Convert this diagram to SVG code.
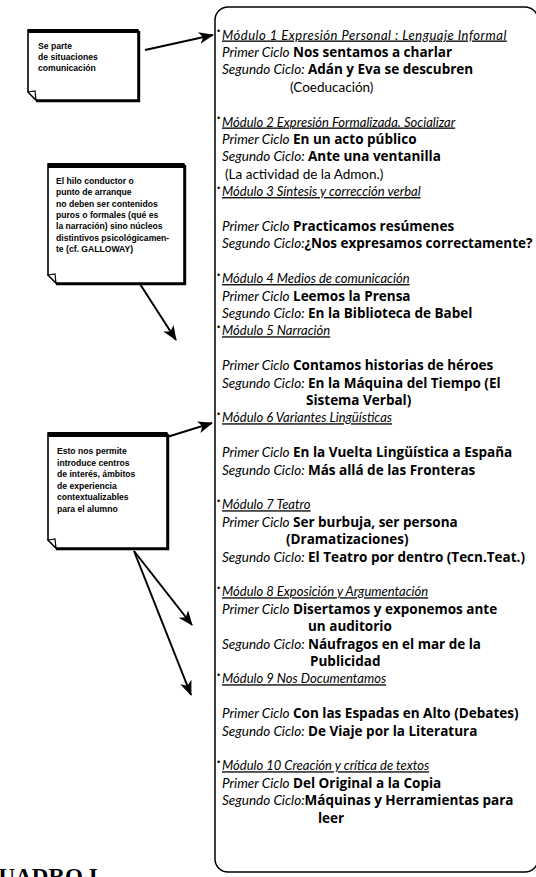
<svg xmlns="http://www.w3.org/2000/svg" width="536" height="877" viewBox="0 0 536 877">
<style>
.note-body{fill:#fff;stroke:#000;stroke-width:1.6}
.note-bar{fill:#000}
.note-shadow{fill:none;stroke:#000;stroke-width:2.4}
.note-fold{fill:#fff;stroke:#000;stroke-width:1.2}
.nt{font-family:"Liberation Sans",Arial,sans-serif;font-weight:bold;font-size:8.6px;fill:#000}
.bx{fill:none;stroke:#000;stroke-width:1.5}
.t{font-family:Lato,"Liberation Sans",sans-serif;font-size:13.5px;fill:#000}
.i{font-family:Lato,"Liberation Sans",sans-serif;font-style:italic;font-weight:normal}
.b{font-family:"Open Sans","Liberation Sans",sans-serif;font-weight:bold;font-size:13.5px}
.hd{font-style:italic;text-decoration:underline;font-size:13px}
.bul{font-family:"Liberation Sans",sans-serif;font-size:9px}
.conn{stroke:#000;stroke-width:2;fill:none}
.cap{font-family:"Liberation Serif","Times New Roman",serif;font-weight:bold;font-size:23px}
</style>
<defs>
<marker id="ah" markerUnits="userSpaceOnUse" markerWidth="16" markerHeight="12" refX="14" refY="6" orient="auto">
<path d="M0,0 L15,6 L0,12 L4,6 Z" fill="#000"/>
</marker>
</defs>

<g id="main-box">
<rect class="bx" x="215" y="7" width="323" height="865" rx="13"/>
</g>

<g id="modules" class="t">
<text class="bul" x="217" y="34">•</text>
<text class="hd" x="222" y="39.5" letter-spacing="0.5">Módulo 1 Expresión Personal : Lenguaje Informal</text>
<text x="222" y="56.9"><tspan class="i">Primer Ciclo</tspan> <tspan class="b">Nos sentamos  a charlar</tspan></text>
<text x="222" y="74.3"><tspan class="i">Segundo Ciclo:</tspan> <tspan class="b">Adán y Eva se descubren</tspan></text>
<text x="290" y="91.7">(Coeducación)</text>

<text class="bul" x="217" y="121">•</text>
<text class="hd" x="222" y="126.5">Módulo 2 Expresión Formalizada. Socializar</text>
<text x="222" y="143.9"><tspan class="i">Primer Ciclo</tspan> <tspan class="b">En un acto público</tspan></text>
<text x="222" y="161.3"><tspan class="i">Segundo Ciclo:</tspan> <tspan class="b">Ante una ventanilla</tspan></text>
<text x="225" y="178.7">(La actividad de la Admon.)</text>

<text class="bul" x="217" y="191">•</text>
<text class="hd" x="222" y="196.1">Módulo 3 Síntesis y corrección verbal</text>
<text x="222" y="230.9"><tspan class="i">Primer Ciclo</tspan> <tspan class="b">Practicamos resúmenes</tspan></text>
<text x="222" y="248.3"><tspan class="i">Segundo Ciclo:</tspan><tspan class="b">¿Nos expresamos correctamente?</tspan></text>

<text class="bul" x="217" y="278">•</text>
<text class="hd" x="222" y="283.1">Módulo 4 Medios de comunicación</text>
<text x="222" y="300.5"><tspan class="i">Primer Ciclo</tspan> <tspan class="b">Leemos la Prensa</tspan></text>
<text x="222" y="317.9"><tspan class="i">Segundo Ciclo:</tspan> <tspan class="b">En la Biblioteca de Babel</tspan></text>
<text class="bul" x="217" y="330">•</text>
<text class="hd" x="222" y="335.3">Módulo 5 Narración</text>
<text x="222" y="370.1"><tspan class="i">Primer Ciclo</tspan> <tspan class="b">Contamos historias de héroes</tspan></text>
<text x="222" y="387.5"><tspan class="i">Segundo Ciclo:</tspan> <tspan class="b">En la Máquina del Tiempo (El</tspan></text>
<text class="b" x="306" y="404.9">Sistema Verbal)</text>
<text class="bul" x="217" y="417">•</text>
<text class="hd" x="222" y="422.3">Módulo 6 Variantes Lingüísticas</text>
<text x="222" y="457.1"><tspan class="i">Primer Ciclo</tspan> <tspan class="b">En la Vuelta Lingüística a España</tspan></text>
<text x="222" y="474.5"><tspan class="i">Segundo Ciclo:</tspan> <tspan class="b">Más allá de las Fronteras</tspan></text>

<text class="bul" x="217" y="504">•</text>
<text class="hd" x="222" y="509.3">Módulo 7 Teatro</text>
<text x="222" y="526.7"><tspan class="i">Primer Ciclo</tspan> <tspan class="b">Ser burbuja, ser persona</tspan></text>
<text class="b" x="286" y="544.1">(Dramatizaciones)</text>
<text x="222" y="561.5"><tspan class="i">Segundo Ciclo:</tspan> <tspan class="b">El Teatro por dentro (Tecn.Teat.)</tspan></text>

<text class="bul" x="217" y="591">•</text>
<text class="hd" x="222" y="596.3">Módulo 8 Exposición y Argumentación</text>
<text x="222" y="613.7"><tspan class="i">Primer Ciclo</tspan> <tspan class="b">Disertamos y exponemos ante</tspan></text>
<text class="b" x="308" y="631.1">un auditorio</text>
<text x="222" y="648.5"><tspan class="i">Segundo Ciclo:</tspan> <tspan class="b">Náufragos en el mar de la</tspan></text>
<text class="b" x="310" y="665.9">Publicidad</text>
<text class="bul" x="217" y="678">•</text>
<text class="hd" x="222" y="683.3">Módulo 9  Nos Documentamos</text>
<text x="222" y="718.1"><tspan class="i">Primer Ciclo</tspan> <tspan class="b">Con las Espadas en Alto (Debates)</tspan></text>
<text x="222" y="735.5"><tspan class="i">Segundo Ciclo:</tspan> <tspan class="b">De Viaje por la Literatura</tspan></text>

<text class="bul" x="217" y="765">•</text>
<text class="hd" x="222" y="770.3">Módulo 10 Creación y crítica de textos</text>
<text x="222" y="787.7"><tspan class="i">Primer Ciclo</tspan> <tspan class="b">Del Original a la Copia</tspan></text>
<text x="222" y="805.1"><tspan class="i">Segundo Ciclo:</tspan><tspan class="b">Máquinas y Herramientas para</tspan></text>
<text class="b" x="318" y="822.5">leer</text>
</g>

<g id="note1">
<path class="note-shadow" d="M139,31 V101 H36"/>
<path class="note-body" d="M28,30 H138 V100 H36 L28,92 Z"/>
<rect class="note-bar" x="28" y="29" width="110" height="4"/>
<path class="note-fold" d="M28,92 L35,91 L36,100 Z"/>
<text class="nt" x="38" y="49">Se parte</text>
<text class="nt" x="38" y="60">de situaciones</text>
<text class="nt" x="38" y="71">comunicación</text>
</g>

<g id="note2">
<path class="note-shadow" d="M185,165 V284 H56"/>
<path class="note-body" d="M48,164 H184 V283 H56 L48,275 Z"/>
<rect class="note-bar" x="48" y="163" width="136" height="5"/>
<path class="note-fold" d="M48,275 L55,274 L56,283 Z"/>
<text class="nt" x="56" y="184">El hilo conductor o</text>
<text class="nt" x="56" y="195.3">punto de arranque</text>
<text class="nt" x="56" y="206.6">no deben ser contenidos</text>
<text class="nt" x="56" y="217.9">puros o formales (qué es</text>
<text class="nt" x="56" y="229.2">la narración) sino núcleos</text>
<text class="nt" x="56" y="240.5">distintivos psicológicamen-</text>
<text class="nt" x="56" y="251.8">te (cf. GALLOWAY)</text>
</g>

<g id="note3">
<path class="note-shadow" d="M168,434 V549 H56"/>
<path class="note-body" d="M48,433 H167 V548 H56 L48,540 Z"/>
<rect class="note-bar" x="48" y="432" width="119" height="5"/>
<path class="note-fold" d="M48,540 L55,539 L56,548 Z"/>
<text class="nt" x="57" y="454">Esto nos permite</text>
<text class="nt" x="57" y="465.5">introduce centros</text>
<text class="nt" x="57" y="477">de interés, ámbitos</text>
<text class="nt" x="57" y="488.5">de experiencia</text>
<text class="nt" x="57" y="500">contextualizables</text>
<text class="nt" x="57" y="511.5">para el alumno</text>
</g>

<g id="connectors">
<line class="conn" x1="145" y1="50" x2="213" y2="35" marker-end="url(#ah)"/>
<line class="conn" x1="140" y1="284" x2="176" y2="340" marker-end="url(#ah)"/>
<line class="conn" x1="167" y1="437" x2="212" y2="423" marker-end="url(#ah)"/>
<line class="conn" x1="134" y1="551" x2="192" y2="625" marker-end="url(#ah)"/>
<line class="conn" x1="134" y1="551" x2="191" y2="695" marker-end="url(#ah)"/>
</g>

<text class="cap" x="-18" y="884">CUADRO I</text>
</svg>
